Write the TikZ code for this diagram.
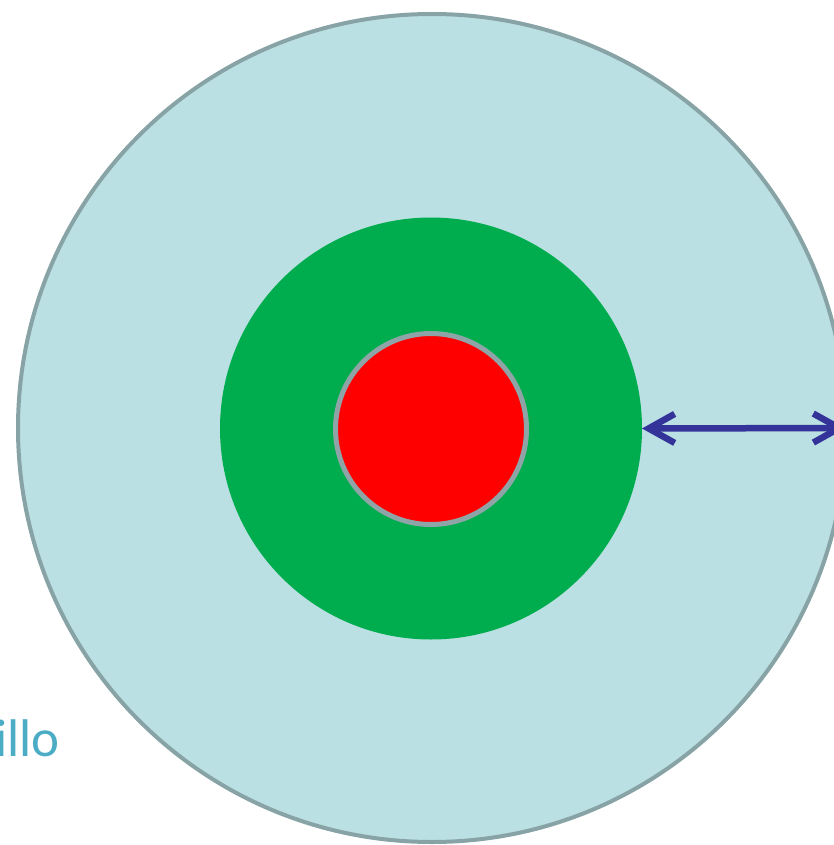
\documentclass[tikz,border=0pt]{standalone}
\usepackage{fontspec}
\setmainfont{Carlito}
\usepackage{tikz}
\usetikzlibrary{arrows.meta,positioning}
\definecolor{crust}{HTML}{BBE0E3}
\definecolor{crustline}{HTML}{88A3A6}
\definecolor{mantlegreen}{HTML}{00AD4E}
\definecolor{corered}{HTML}{FF0000}
\definecolor{coreline}{HTML}{8FA4A6}
\definecolor{arrowblue}{HTML}{333399}
\definecolor{labelteal}{HTML}{4BACC6}
\tikzset{
    every picture/.style={line cap=round,line join=round},
    layer/.style={circle,inner sep=0pt,outer sep=0pt},
    barb/.tip={Straight Barb[length=26pt,width=29pt,line width=6.5pt 0]},
    flowarrow/.style={barb-barb,draw=arrowblue,line width=6.5pt},
    layerlabel/.style={text=labelteal,font=\fontsize{53}{56}\selectfont,inner sep=0pt}
}
\begin{document}
\begin{tikzpicture}[x=1pt,y=-1pt]
  \useasboundingbox (0,0) rectangle (834,845);
  \clip (0,0) rectangle (834,845);
  \node[layer,draw=crustline,fill=crust,line width=4pt,minimum size=828pt] (crust) at (432,428) {};
  \node[layer,fill=mantlegreen,minimum size=422pt] (mantle) at (431,428.5) {};
  \node[layer,draw=coreline,fill=corered,line width=5pt,minimum size=191pt] (core) at (431,429) {};
  \draw[flowarrow] (mantle.east) -- (crust.east);
  \node[layerlabel,anchor=base east] (name) at (60,756) {illo};
\end{tikzpicture}
\end{document}
